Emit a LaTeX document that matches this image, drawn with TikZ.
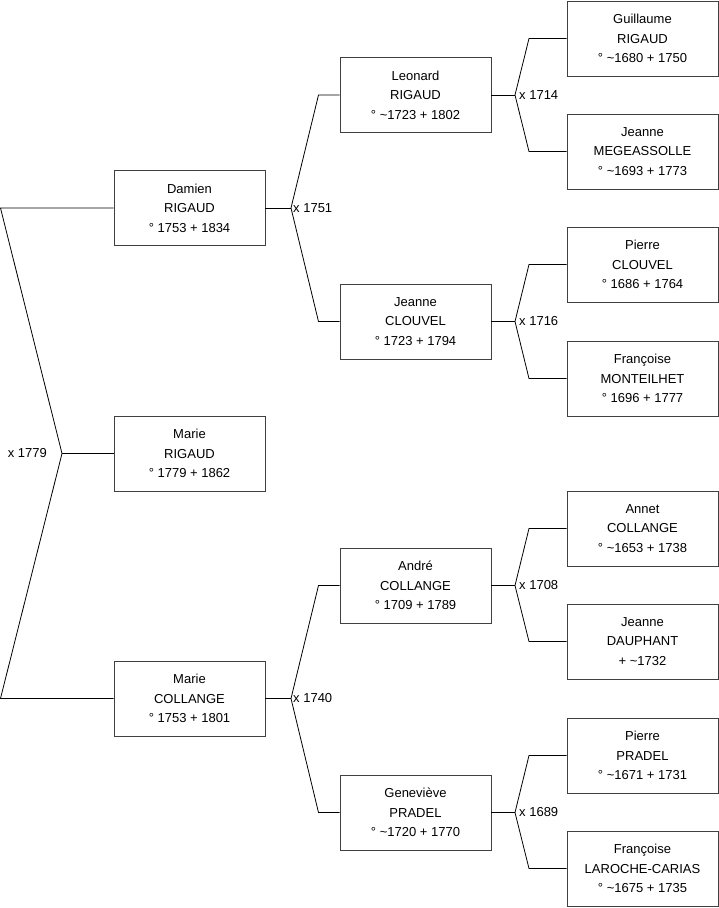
\documentclass[tikz,border=0pt]{standalone}
\usepackage{fontspec}
\setmainfont{Liberation Sans}
\begin{document}
\begin{tikzpicture}[x=1pt,y=-1pt,
 person/.style={draw=black!75, line width=0.9pt, fill=white, minimum width=151pt, minimum height=75pt, inner sep=0pt, align=center, font=\fontsize{13}{19.5}\selectfont},
 link/.style={draw=black, line width=0.8pt},
 lbl/.style={inner sep=0pt, font=\fontsize{13}{15}\selectfont}]
\useasboundingbox (0,0) rectangle (719,908);
% column 1
\node[person] (damien) at (189.5,208) {Damien\\RIGAUD\\° 1753 + 1834};
\node[person] (marieR) at (189.5,453.5) {Marie\\RIGAUD\\° 1779 + 1862};
\node[person] (marieC) at (189.5,698.5) {Marie\\COLLANGE\\° 1753 + 1801};
% column 2
\node[person] (leonard) at (415.5,95) {Leonard\\RIGAUD\\° \textasciitilde1723 + 1802};
\node[person] (jeanneC) at (415.5,321.5) {Jeanne\\CLOUVEL\\° 1723 + 1794};
\node[person] (andre) at (415.5,585.5) {André\\COLLANGE\\° 1709 + 1789};
\node[person] (genevieve) at (415.5,812.5) {Geneviève\\PRADEL\\° \textasciitilde1720 + 1770};
% column 3
\node[person] (guillaume) at (642.5,38.5) {Guillaume\\RIGAUD\\° \textasciitilde1680 + 1750};
\node[person] (jeanneM) at (642.5,151.5) {Jeanne\\MEGEASSOLLE\\° \textasciitilde1693 + 1773};
\node[person] (pierreC) at (642.5,264.5) {Pierre\\CLOUVEL\\° 1686 + 1764};
\node[person] (francoiseM) at (642.5,378.5) {Françoise\\MONTEILHET\\° 1696 + 1777};
\node[person] (annet) at (642.5,528.5) {Annet\\COLLANGE\\° \textasciitilde1653 + 1738};
\node[person] (jeanneD) at (642.5,641.5) {Jeanne\\DAUPHANT\\+ \textasciitilde1732};
\node[person] (pierreP) at (642.5,755.5) {Pierre\\PRADEL\\° \textasciitilde1671 + 1731};
\node[person] (francoiseL) at (642.5,868.5) {Françoise\\LAROCHE-CARIAS\\° \textasciitilde1675 + 1735};
% junction points
\coordinate (a1) at (0.5,208);
\coordinate (a2) at (0.5,698.5);
\coordinate (v1) at (62,453.5);
\coordinate (v2) at (291,208);
\coordinate (e2a) at (318.5,95);
\coordinate (e2b) at (318.5,321.5);
\coordinate (v3) at (291,698.5);
\coordinate (e3a) at (318.5,585.5);
\coordinate (e3b) at (318.5,812.5);
\coordinate (v4) at (515,95);
\coordinate (e4a) at (529,38.5);
\coordinate (e4b) at (529,151.5);
\coordinate (v5) at (515,321.5);
\coordinate (e5a) at (529,264.5);
\coordinate (e5b) at (529,378.5);
\coordinate (v6) at (515,585.5);
\coordinate (e6a) at (529,528.5);
\coordinate (e6b) at (529,641.5);
\coordinate (v7) at (515,812.5);
\coordinate (e7a) at (529,755.5);
\coordinate (e7b) at (529,868.5);
% connectors
\draw[link] (damien.west) -- (a1) -- (v1) -- (a2) -- (marieC.west);
\draw[link] (v1) -- (marieR.west);
\draw[link] (damien.east) -- (v2);
\draw[link] (leonard.west) -- (e2a) -- (v2) -- (e2b) -- (jeanneC.west);
\draw[link] (marieC.east) -- (v3);
\draw[link] (andre.west) -- (e3a) -- (v3) -- (e3b) -- (genevieve.west);
\draw[link] (leonard.east) -- (v4);
\draw[link] (guillaume.west) -- (e4a) -- (v4) -- (e4b) -- (jeanneM.west);
\draw[link] (jeanneC.east) -- (v5);
\draw[link] (pierreC.west) -- (e5a) -- (v5) -- (e5b) -- (francoiseM.west);
\draw[link] (andre.east) -- (v6);
\draw[link] (annet.west) -- (e6a) -- (v6) -- (e6b) -- (jeanneD.west);
\draw[link] (genevieve.east) -- (v7);
\draw[link] (pierreP.west) -- (e7a) -- (v7) -- (e7b) -- (francoiseL.west);
% marriage labels
\node[lbl, anchor=east] (m1) at ([xshift=-15pt]v1) {x 1779};
\node[lbl, anchor=west] (m2) at ([xshift=2pt]v2) {x 1751};
\node[lbl, anchor=west] (m3) at ([xshift=2pt]v3) {x 1740};
\node[lbl, anchor=west] (m4) at ([xshift=4pt]v4) {x 1714};
\node[lbl, anchor=west] (m5) at ([xshift=4pt]v5) {x 1716};
\node[lbl, anchor=west] (m6) at ([xshift=4pt]v6) {x 1708};
\node[lbl, anchor=west] (m7) at ([xshift=4pt]v7) {x 1689};
\end{tikzpicture}
\end{document}
